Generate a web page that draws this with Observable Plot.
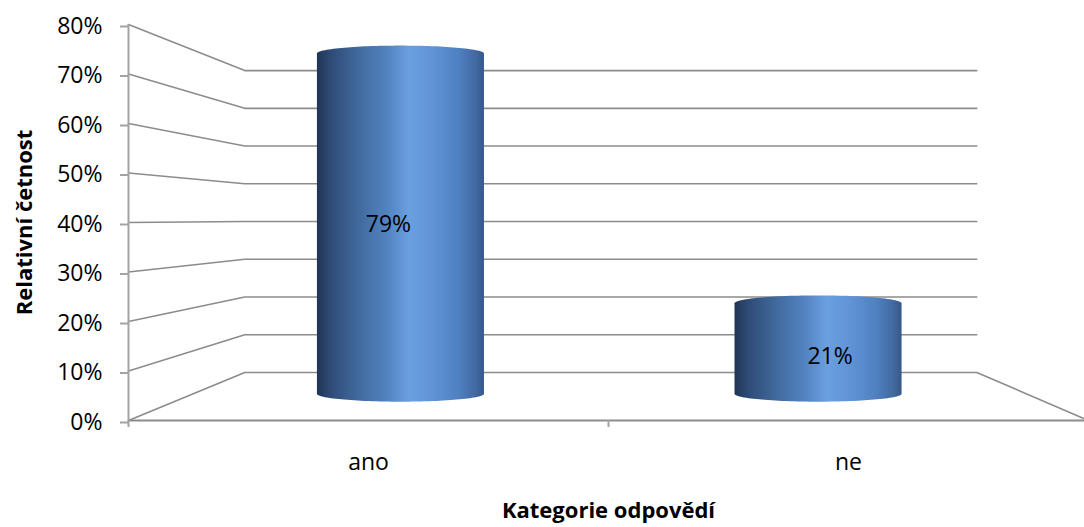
<!DOCTYPE html>
<html>
<head>
<meta charset="utf-8">
<script src="https://cdn.jsdelivr.net/npm/d3@7"></script>
<script src="https://cdn.jsdelivr.net/npm/@observablehq/plot@0.6"></script>
<style>
  body { margin: 0; background: #fff; }
  svg { display: block; }
</style>
</head>
<body>
<div id="chart"></div>
<script>
// Answers and their relative frequencies (%)
const categories = ["ano", "ne"];
const values = [79, 21];

// Value axis
const yTicks = [0, 10, 20, 30, 40, 50, 60, 70, 80];
const yTickLabels = ["0%", "10%", "20%", "30%", "40%", "50%", "60%", "70%", "80%"];

const xTitle = "Kategorie odpovědí";
const yTitle = "Relativní četnost";

// Simple perspective for the 3-D look: points on the front plane (x in category
// slots 0..2, y in percent) are scaled toward a vanishing centre by a depth factor.
const VX = 1.02, VY = 40.8;
const BACK = 0.7625, MID = 0.87, LABEL_DEPTH = 0.92;
const proj = (x, y, s) => ({x: VX + s * (x - VX), y: VY + s * (y - VY)});

const gridColor = "#8c8c8c";
const font = "'Open Sans', Lato, sans-serif";
const fs = 23;      // tick and data label size
const titleFs = 22; // axis titles

// Side wall + back wall gridlines (and the floor edge for the 0% line)
const backLeft = proj(0, 0, BACK).x;
const backRight = proj(categories.length, 0, BACK).x;
const wall = [];
yTicks.forEach(v => {
  const by = proj(0, v, BACK).y;
  wall.push({k: v, x: 0, y: v}, {k: v, x: backLeft, y: by}, {k: v, x: backRight, y: by});
  if (v === 0) wall.push({k: v, x: categories.length, y: 0});
});

// Cylinders: body outline = lower arc of the base ellipse + upper arc of the top ellipse
const barWidth = 0.4;   // share of a category slot
const ry = 1.6;         // ellipse vertical radius, in percent units
const N = 64;
const cyl = [];
const labels = [];
categories.forEach((c, i) => {
  const base = proj(i + 0.5, 0, MID);
  const top = proj(i + 0.5, values[i], MID);
  const hw = (barWidth / 2) * MID;
  for (let k = 0; k <= N; ++k) {
    const t = Math.PI * k / N;
    const e = Math.sin(t);
    cyl.push({cat: c, x: base.x - hw * Math.cos(t), y1: base.y - ry * e, y2: top.y + ry * e});
  }
  const lp = proj(i + 0.5, values[i] / 2, LABEL_DEPTH);
  labels.push({x: lp.x, y: lp.y, text: values[i] + "%"});
});

const svg = Plot.plot({
  width: 1084,
  height: 527,
  marginLeft: 128,
  marginRight: -4,
  marginTop: 24,
  marginBottom: 107,
  style: {fontFamily: font, fontSize: fs + "px", color: "#000", background: "#fff"},
  x: {type: "linear", domain: [0, categories.length], range: [128, 1088]},
  y: {type: "linear", domain: [0, 80], range: [420, 24]},
  marks: [
    Plot.line(wall, {x: "x", y: "y", z: "k", stroke: gridColor, strokeWidth: 1.6}),
    Plot.ruleY([0], {x1: 0, x2: categories.length, stroke: gridColor, strokeWidth: 2}),
    Plot.ruleX([0], {y1: 0, y2: 80, stroke: "#a3a3a3", strokeWidth: 2}),
    Plot.axisY(yTicks, {
      tickSize: 8, tickPadding: 18, stroke: "#a3a3a3", strokeWidth: 2,
      tickFormat: d => yTickLabels[yTicks.indexOf(d)], dy: 2, label: null, fontSize: fs
    }),
    Plot.axisX(d3.range(categories.length + 1), {
      tickSize: 7, stroke: "#a3a3a3", strokeWidth: 2, tickFormat: () => "", label: null
    }),
    Plot.axisX(categories.map((c, i) => i + 0.5), {
      tickSize: 0, tickPadding: 33, tickFormat: d => categories[Math.floor(d)], label: null, fontSize: fs
    }),
    Plot.areaY(cyl, {x: "x", y1: "y1", y2: "y2", z: "cat", fill: "url(#cyl)", curve: "linear"}),
    Plot.text(labels, {x: "x", y: "y", text: "text", fontSize: fs, fill: "#000"}),
    Plot.text([xTitle], {frameAnchor: "bottom", lineAnchor: "middle", textAnchor: "middle", dy: 90, fontWeight: "bold", fontSize: titleFs, fill: "#000"}),
    Plot.text([yTitle], {frameAnchor: "left", lineAnchor: "middle", textAnchor: "middle", rotate: -90, dx: -104, fontWeight: "bold", fontSize: titleFs, fill: "#000"})
  ]
});

// Horizontal shading of the cylinder surface
const grad = d3.select(svg).insert("defs", ":first-child")
  .append("linearGradient").attr("id", "cyl")
  .attr("x1", 0).attr("x2", 1).attr("y1", 0).attr("y2", 0);
[
  [0, "#1f3554"], [0.08, "#2e4b76"], [0.25, "#416a9e"], [0.42, "#5283c0"],
  [0.55, "#6a9fe0"], [0.7, "#5f93d6"], [0.85, "#4f80c0"], [0.95, "#4369a0"], [1, "#355888"]
].forEach(([o, c]) => grad.append("stop").attr("offset", o).attr("stop-color", c));

document.getElementById("chart").appendChild(svg);
</script>
</body>
</html>
